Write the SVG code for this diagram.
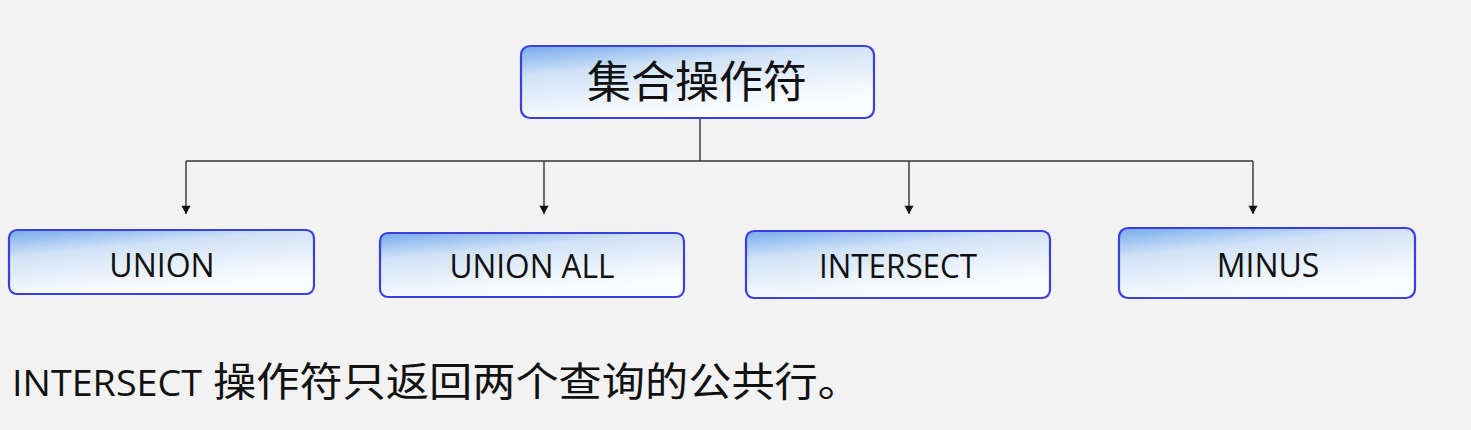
<svg xmlns="http://www.w3.org/2000/svg" width="1471" height="430" viewBox="0 0 1471 430">
<style>
.box{fill:url(#g);stroke:#3b3ee0;stroke-width:2.2}
.lbl{font-family:"Open Sans","Noto Sans","Liberation Sans",sans-serif;font-size:32px;fill:#111;text-anchor:middle}
.root{font-family:"Noto Sans CJK SC",sans-serif;font-size:44px;fill:#111;text-anchor:middle}
.conn{stroke:#333;stroke-width:1.4;fill:none}
.cap{font-family:"Open Sans","Noto Sans","Noto Sans CJK SC",sans-serif;font-size:36px;fill:#111}
</style>
<defs>
<linearGradient id="g" x1="0" y1="0" x2="0.45" y2="1">
<stop offset="0" stop-color="#76aaec"/>
<stop offset="0.35" stop-color="#cfe2f7"/>
<stop offset="0.8" stop-color="#f3f7fd"/>
<stop offset="1" stop-color="#fbfcfe"/>
</linearGradient>
<marker id="arr" viewBox="0 0 10 12" refX="10" refY="6" markerWidth="12" markerHeight="10" markerUnits="userSpaceOnUse" orient="auto">
<path d="M0,0.5 L10,6 L0,11.5 Z" fill="#111"/>
</marker>
</defs>
<rect width="1471" height="430" fill="#f2f2f2"/>
<g id="connectors">
<path class="conn" d="M700,118 V161"/>
<path class="conn" d="M186,161 H1253"/>
<path class="conn" d="M186,161 V214" marker-end="url(#arr)"/>
<path class="conn" d="M544,161 V214" marker-end="url(#arr)"/>
<path class="conn" d="M909,161 V214" marker-end="url(#arr)"/>
<path class="conn" d="M1253,161 V214" marker-end="url(#arr)"/>
</g>
<g id="root">
<rect class="box" x="521" y="46" width="353" height="72" rx="9"/>
<text class="root" x="697" y="98">集合操作符</text>
</g>
<g id="union">
<rect class="box" x="9" y="230" width="305" height="64" rx="8"/>
<text class="lbl" x="162" y="277">UNION</text>
</g>
<g id="unionall">
<rect class="box" x="380" y="233" width="304" height="64" rx="8"/>
<text class="lbl" x="532" y="278" textLength="165" lengthAdjust="spacingAndGlyphs">UNION ALL</text>
</g>
<g id="intersect">
<rect class="box" x="746" y="231" width="304" height="67" rx="8"/>
<text class="lbl" x="898" y="278" textLength="158" lengthAdjust="spacingAndGlyphs">INTERSECT</text>
</g>
<g id="minus">
<rect class="box" x="1119" y="228" width="296" height="70" rx="9"/>
<text class="lbl" x="1268" y="277">MINUS</text>
</g>
<text class="cap" x="12" y="396"><tspan textLength="190" lengthAdjust="spacingAndGlyphs">INTERSECT</tspan><tspan x="213" font-family="Noto Sans CJK SC, sans-serif" font-size="40" textLength="648" lengthAdjust="spacingAndGlyphs">操作符只返回两个查询的公共行。</tspan></text>
</svg>
